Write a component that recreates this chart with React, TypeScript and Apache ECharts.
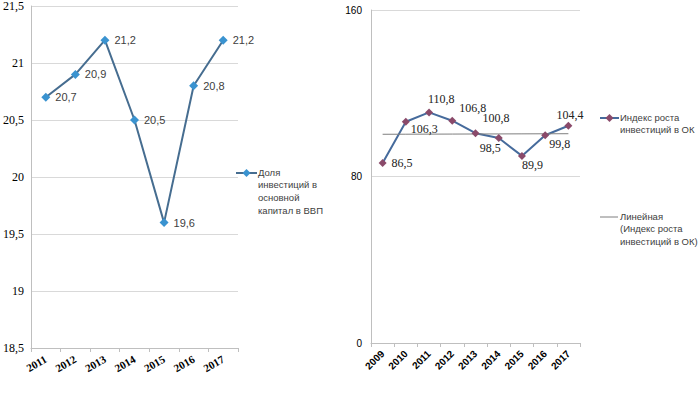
import React, { useEffect, useRef } from "react";
import * as echarts from "echarts";

const leftYears = ["2011", "2012", "2013", "2014", "2015", "2016", "2017"];
const leftValues = [20.7, 20.9, 21.2, 20.5, 19.6, 20.8, 21.2];
const leftSeriesName = "Доля инвестиций в основной капитал в ВВП";
const leftLegendLines = ["Доля", "инвестиций в", "основной", "капитал в ВВП"];

const rightYears = ["2009", "2010", "2011", "2012", "2013", "2014", "2015", "2016", "2017"];
const rightValues = [86.5, 106.3, 110.8, 106.8, 100.8, 98.5, 89.9, 99.8, 104.4];
const rightSeriesName = "Индекс роста инвестиций в ОК";
const rightLegendLines = ["Индекс роста", "инвестиций в ОК"];
const trendName = "Линейная (Индекс роста инвестиций в ОК)";
const trendLegendLines = ["Линейная", "(Индекс роста", "инвестиций в ОК)"];

// label offsets (style only) for the right series' data labels
const rightLabelOffsets: [number, number][] = [
  [0, 0], [-4, 7], [-10, -13], [-2, -13], [-2, -15], [-28, 10], [-9, 9], [-5, 9], [-21, -11],
];

const fmt1 = (v: number) => v.toFixed(1).replace(".", ",");
const fmtTick = (v: number) => String(v).replace(".", ",");

function linearTrend(values: number[]): number[] {
  const n = values.length;
  const xm = (n - 1) / 2;
  const ym = values.reduce((a, b) => a + b, 0) / n;
  let num = 0, den = 0;
  values.forEach((v, i) => { num += (i - xm) * (v - ym); den += (i - xm) * (i - xm); });
  const slope = num / den;
  return values.map((_, i) => +(ym + slope * (i - xm)).toFixed(3));
}

const SANS = "'Liberation Sans', 'DejaVu Sans', sans-serif";
const SERIF = "'Liberation Serif', 'DejaVu Serif', serif";

export default function App() {
  const ref = useRef<HTMLDivElement>(null);
  useEffect(() => {
    if (!ref.current) return;
    const chart = echarts.init(ref.current, undefined, { renderer: "svg" });
    const trend = linearTrend(rightValues);
    const legendText = (x: number, y: number, lines: string[]) =>
      lines.map((t, i) => ({
        type: "text",
        left: x,
        top: y + i * 12.7 - 6,
        style: { text: t, font: `9.5px ${SANS}`, fill: "#404040" },
      }));
    chart.setOption({
      animation: false,
      backgroundColor: "#ffffff",
      grid: [
        { left: 29, top: 5, width: 209, height: 343 },
        { left: 371, top: 10, width: 209, height: 333 },
      ],
      xAxis: [
        {
          type: "category", gridIndex: 0, data: leftYears, boundaryGap: true,
          axisLine: { lineStyle: { color: "#bfbfbf" } },
          axisTick: { show: true, length: 4, lineStyle: { color: "#bfbfbf" } },
          axisLabel: { rotate: 30, margin: 10, interval: 0, fontFamily: SERIF, fontWeight: "bold", fontSize: 11, color: "#000" },
        },
        {
          type: "category", gridIndex: 1, data: rightYears, boundaryGap: true,
          axisLine: { lineStyle: { color: "#bfbfbf" } },
          axisTick: { show: true, length: 4, lineStyle: { color: "#bfbfbf" } },
          axisLabel: { rotate: 45, margin: 9, interval: 0, fontFamily: SANS, fontWeight: "bold", fontSize: 10, color: "#000" },
        },
      ],
      yAxis: [
        {
          type: "value", gridIndex: 0, min: 18.5, max: 21.5, interval: 0.5,
          axisLine: { show: true, lineStyle: { color: "#bfbfbf" } },
          axisTick: { show: false },
          splitLine: { lineStyle: { color: "#d9d9d9" } },
          axisLabel: { margin: 7, fontFamily: SERIF, fontSize: 12, color: "#000", formatter: (v: number) => fmtTick(v) },
        },
        {
          type: "value", gridIndex: 1, min: 0, max: 160, interval: 80,
          axisLine: { show: true, lineStyle: { color: "#bfbfbf" } },
          axisTick: { show: false },
          splitLine: { lineStyle: { color: "#d9d9d9" } },
          axisLabel: { margin: 9, fontFamily: SANS, fontSize: 10, color: "#000" },
        },
      ],
      series: [
        {
          name: leftSeriesName, type: "line", xAxisIndex: 0, yAxisIndex: 0,
          data: leftValues,
          symbol: "diamond", symbolSize: 9,
          lineStyle: { color: "#466d90", width: 2 },
          itemStyle: { color: "#3a93d0" },
          label: { show: true, position: "right", distance: 5, fontFamily: SANS, fontSize: 11, color: "#404040", formatter: (p: any) => fmt1(p.value) },
        },
        {
          name: rightSeriesName, type: "line", xAxisIndex: 1, yAxisIndex: 1,
          data: rightValues.map((v, i) => ({
            value: v,
            label: { offset: rightLabelOffsets[i] },
          })),
          symbol: "diamond", symbolSize: 8,
          lineStyle: { color: "#466b9c", width: 2 },
          itemStyle: { color: "#8a4a6a" },
          label: { show: true, position: "right", distance: 5, fontFamily: SERIF, fontSize: 12, color: "#222", formatter: (p: any) => fmt1(p.value) },
        },
        {
          name: trendName, type: "line", xAxisIndex: 1, yAxisIndex: 1,
          data: trend, showSymbol: false, symbol: "none",
          lineStyle: { color: "#7f7f7f", width: 1 },
          itemStyle: { color: "#7f7f7f" },
          silent: true,
        },
      ],
      graphic: [
        { type: "line", shape: { x1: 236, y1: 173, x2: 257, y2: 173 }, style: { stroke: "#466d90", lineWidth: 2 } },
        { type: "polygon", shape: { points: [[246.5, 169], [250.5, 173], [246.5, 177], [242.5, 173]] }, style: { fill: "#3a93d0" } },
        ...legendText(258, 173, leftLegendLines),
        { type: "line", shape: { x1: 600, y1: 118, x2: 619, y2: 118 }, style: { stroke: "#466b9c", lineWidth: 2 } },
        { type: "polygon", shape: { points: [[609.5, 114], [613.5, 118], [609.5, 122], [605.5, 118]] }, style: { fill: "#8a4a6a" } },
        ...legendText(620, 118, rightLegendLines),
        { type: "line", shape: { x1: 600, y1: 217, x2: 618, y2: 217 }, style: { stroke: "#7f7f7f", lineWidth: 1 } },
        ...legendText(620, 217, trendLegendLines),
      ],
    });
    return () => chart.dispose();
  }, []);
  return (
    <div
      ref={ref}
      style={{ position: "fixed", left: 0, top: 0, width: 700, height: 395, background: "#fff" }}
    />
  );
}
